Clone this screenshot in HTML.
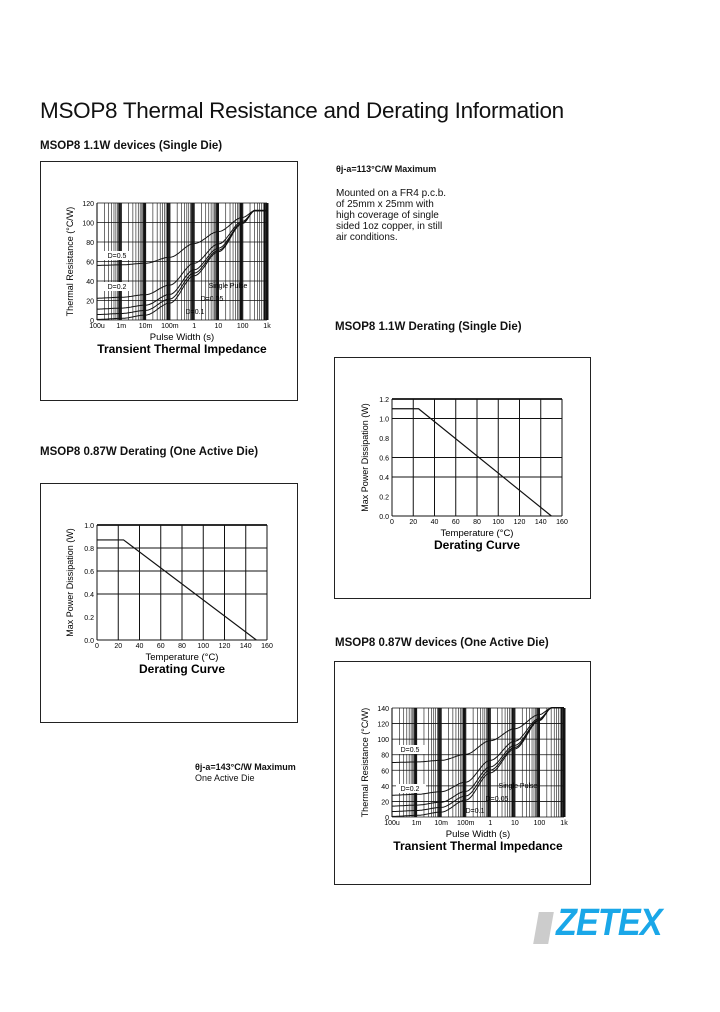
<!DOCTYPE html>
<html><head><meta charset="utf-8"><style>
body{margin:0;background:#fff;width:720px;height:1012px;position:relative;font-family:"Liberation Sans",sans-serif;color:#111;overflow:hidden}
.t{position:absolute;white-space:nowrap}
.h{font-weight:bold;font-size:11.5px}
.box{position:absolute;border:1.3px solid #222}
svg{position:absolute;left:0;top:0}
</style></head><body>
<div class="t" style="left:40px;top:98px;font-size:22.5px;letter-spacing:-0.3px">MSOP8 Thermal Resistance and Derating Information</div>
<div class="t h" style="left:40px;top:140px">MSOP8 1.1W devices (Single Die)</div>
<div class="t h" style="left:335px;top:321px">MSOP8 1.1W Derating (Single Die)</div>
<div class="t h" style="left:40px;top:446px">MSOP8 0.87W Derating (One Active Die)</div>
<div class="t h" style="left:335px;top:637px">MSOP8 0.87W devices (One Active Die)</div>
<div class="t" style="left:336px;top:164px;font-size:9px;font-weight:bold">θj-a=113°C/W Maximum</div>
<div class="t" style="left:336px;top:188px;font-size:10px;line-height:11px">Mounted on a FR4 p.c.b.<br>of 25mm x 25mm with<br>high coverage of single<br>sided 1oz copper, in still<br>air conditions.</div>
<div class="t" style="left:195px;top:762px;font-size:9px;line-height:11px"><b>θj-a=143°C/W Maximum</b><br>One Active Die</div>
<div class="box" style="left:40px;top:161px;width:256px;height:238px"></div>
<div class="box" style="left:334px;top:357px;width:255px;height:240px"></div>
<div class="box" style="left:40px;top:483px;width:256px;height:238px"></div>
<div class="box" style="left:334px;top:661px;width:255px;height:222px"></div>
<svg id="s" width="720" height="1012" font-family="Liberation Sans, sans-serif"></svg>
<div class="t" style="left:536px;top:912px;width:15px;height:32px;background:#ccc;transform:skewX(-10deg)"></div>
<div class="t" style="left:556px;top:903px;font-size:38px;line-height:40px;font-weight:bold;font-style:italic;color:#1aa7e8;letter-spacing:-1px;transform:scaleX(0.9);transform-origin:left top">ZETEX</div>
<script>
var S=document.getElementById('s'),o='';
function L(x1,y1,x2,y2,w){o+='<line x1="'+x1+'" y1="'+y1+'" x2="'+x2+'" y2="'+y2+'" stroke="#111" stroke-width="'+(w||1)+'"/>';}
function T(x,y,s,fs,a,extra){o+='<text x="'+x+'" y="'+y+'" font-size="'+fs+'" text-anchor="'+(a||'middle')+'" '+(extra||'')+'>'+s+'</text>';}
function sp(u){var p=[[-4,0],[-3,0.01],[-2,0.04],[-1,0.15],[0,0.4],[1,0.62],[2,0.88],[2.5,1],[3,1]];
 for(var i=0;i<p.length-1;i++)if(u<=p[i+1][0]){var f=(u-p[i][0])/(p[i+1][0]-p[i][0]);f=f*f*(3-2*f);return p[i][1]+(p[i+1][1]-p[i][1])*f;}return 1;}
function trans(x0,x1,y0,y1,ymax,step,Rmax){
 var dx=(x1-x0)/7;
 for(var d=0;d<7;d++)for(var k=1;k<10;k++){var x=x0+dx*(d+Math.log10(k));L(x,y1,x,y0,k==1?1.1:(k>=8?1.3:0.6));}
 L(x1,y1,x1,y0,3);
 for(var v=0;v<=ymax;v+=step){var y=y0-(y0-y1)*v/ymax;L(x0,y,x1,y,0.8);T(x0-3,y+3,v,7,'end');}
 var xs=['100u','1m','10m','100m','1','10','100','1k'];
 for(var i=0;i<8;i++)T(x0+dx*i,y0+8,xs[i],7);
 [0.5,0.2,0.1,0.05,0].forEach(function(D){var pts=[];for(var u=-4;u<=3.001;u+=0.05){var r=Rmax*(D+(1-D)*sp(u)+(D==0?0.005:0));pts.push((x0+dx*(u+4)).toFixed(1)+','+(y0-(y0-y1)*r/ymax).toFixed(1));}
  o+='<polyline points="'+pts.join(' ')+'" fill="none" stroke="#111" stroke-width="1"/>';});
 T((x0+x1)/2,y0+20,'Pulse Width (s)',9.5);
 T((x0+x1)/2,y0+33,'Transient Thermal Impedance',12,'middle','font-weight="bold"');
 T(0,0,'Thermal Resistance (°C/W)',9,'middle','transform="translate('+(x0-24)+','+((y0+y1)/2)+') rotate(-90)"');
}
function der(x0,x1,y0,y1,P,yr,lines){
 for(var i=0;i<=8;i++){var x=x0+(x1-x0)*i/8;L(x,y0,x,y1,1);T(x,y0+8,i*20,7);}
 var n=Math.round(yr/0.2);
 for(var v=0;v<=n;v++){var y=y0-(y0-y1)*v/n;if(lines.indexOf(v)>=0)L(x0,y,x1,y,v==n?1.8:1);T(x0-3,y+3,(v*0.2).toFixed(1),7,'end');}
 L(x0,y0,x1,y0,1);
 var yp=y0-(y0-y1)*P/yr;
 o+='<polyline points="'+x0+','+yp+' '+(x0+(x1-x0)*25/160)+','+yp+' '+(x0+(x1-x0)*150/160)+','+y0+'" fill="none" stroke="#111" stroke-width="1.2"/>';
 T((x0+x1)/2,y0+20,'Temperature (°C)',9.5);
 T((x0+x1)/2,y0+33,'Derating Curve',12,'middle','font-weight="bold"');
 T(0,0,'Max Power Dissipation (W)',9,'middle','transform="translate('+(x0-24)+','+((y0+y1)/2)+') rotate(-90)"');
}
trans(97,267,320,203,120,20,112);
o+='<rect x="102" y="251" width="30" height="9" fill="#fff"/>';T(117,258,'D=0.5',7);
o+='<rect x="102" y="282" width="30" height="9" fill="#fff"/>';T(117,289,'D=0.2',7);
T(228,288,'Single Pulse',7);T(212,301,'D=0.05',7);T(195,314,'D=0.1',7);
der(392,562,516,399,1.1,1.2,[2,3,5,6]);
der(97,267,640,525,0.87,1.0,[2,3,4,5]);
trans(392,564,817,708,140,20,140);
o+='<rect x="396" y="745" width="30" height="9" fill="#fff"/>';T(410,752,'D=0.5',7);
o+='<rect x="396" y="784" width="30" height="9" fill="#fff"/>';T(410,791,'D=0.2',7);
T(518,788,'Single Pulse',7);T(497,801,'D=0.05',7);T(475,813,'D=0.1',7);
S.innerHTML=o;
</script>
</body></html>
